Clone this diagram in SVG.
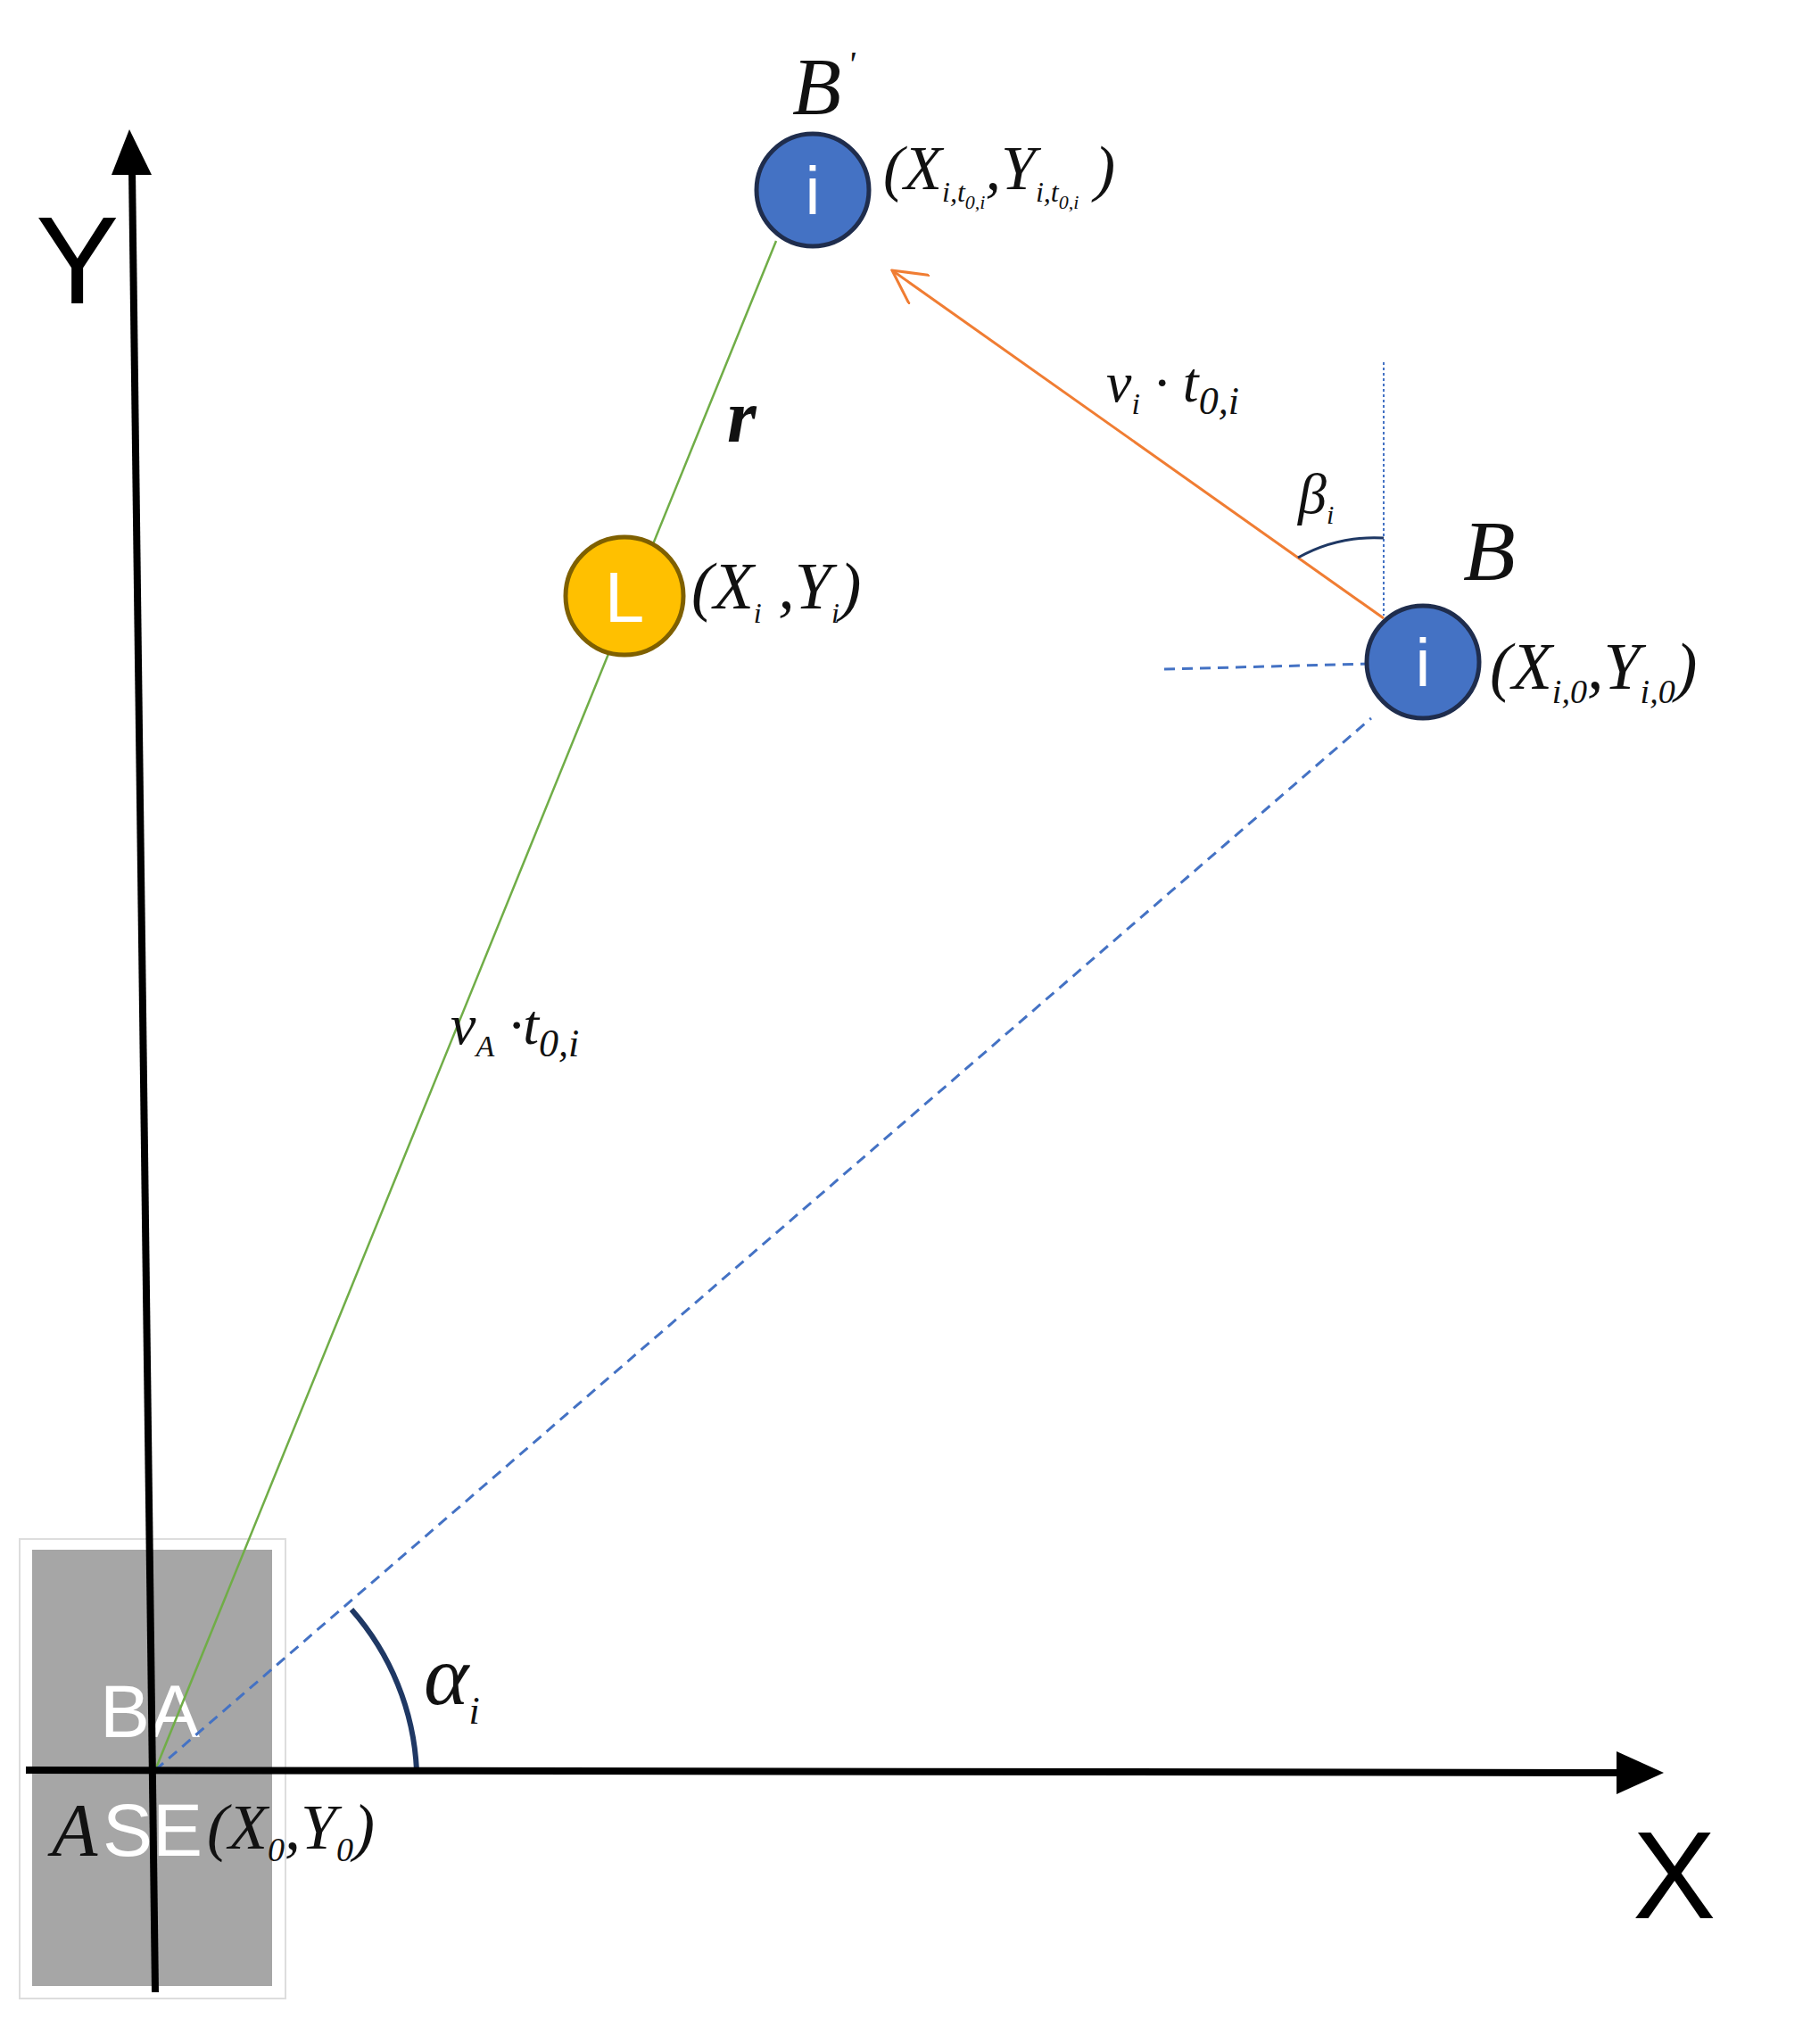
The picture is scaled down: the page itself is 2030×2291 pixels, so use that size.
<svg xmlns="http://www.w3.org/2000/svg" width="2030" height="2291" viewBox="0 0 2030 2291">
<defs>
<style>
.m{font-family:"Liberation Serif",serif;font-style:italic;fill:#111}
.s{font-family:"Liberation Sans",sans-serif}
.node{stroke:#1f2d4d;stroke-width:5}
</style>
<marker id="ah" viewBox="0 0 40 40" refX="38" refY="20" markerWidth="40" markerHeight="40" markerUnits="userSpaceOnUse" orient="auto"><path d="M0,0 L38,20 L0,40" fill="none" stroke="#f07d33" stroke-width="3"/></marker>
</defs>
<rect width="2030" height="2291" fill="#fff"/>
<g id="base">
<rect x="22" y="1725" width="298" height="515" fill="none" stroke="#ddd" stroke-width="2"/>
<rect x="36" y="1737" width="269" height="489" fill="#a6a6a6"/>
<text x="112" y="1947" class="s" font-size="84" fill="#fff">BA</text>
<text x="58" y="2080" class="m" font-size="84">A</text>
<text x="115" y="2080" class="s" font-size="84" fill="#fff">SE</text>
<text x="232" y="2072" class="m" font-size="72">(X<tspan font-size="38" dy="14">0</tspan><tspan dy="-14">,Y</tspan><tspan font-size="38" dy="14">0</tspan><tspan dy="-14">)</tspan></text>
</g>
<g id="connectors">
<line x1="174" y1="1984" x2="870" y2="270" stroke="#70ad47" stroke-width="2.5"/>
<line x1="174" y1="1984" x2="1537" y2="805" stroke="#4472c4" stroke-width="3" stroke-dasharray="12,8"/>
<line x1="1305" y1="750" x2="1537" y2="744" stroke="#4472c4" stroke-width="3" stroke-dasharray="12,8"/>
<line x1="1551" y1="406" x2="1551" y2="690" stroke="#4472c4" stroke-width="2" stroke-dasharray="3,3"/>
<line x1="1551" y1="693" x2="1000" y2="303" stroke="#f07d33" stroke-width="3" marker-end="url(#ah)"/>
<path d="M1455,625 Q1500,600 1551,603" fill="none" stroke="#1f3864" stroke-width="3"/>
<path d="M394,1804 A293,293 0 0 1 467,1984" fill="none" stroke="#1f3864" stroke-width="6"/>
</g>
<g id="axes">
<line x1="174" y1="2233" x2="148" y2="190" stroke="#000" stroke-width="8"/>
<polygon points="145,145 125,196 170,196" fill="#000"/>
<line x1="29" y1="1984" x2="1820" y2="1987" stroke="#000" stroke-width="8"/>
<polygon points="1865,1987 1812,1963 1812,2011" fill="#000"/>
<text x="40" y="340" class="s" font-size="140" fill="#000">Y</text>
<text x="1830" y="2150" class="s" font-size="140" fill="#000">X</text>
</g>
<g id="nodeBp">
<circle cx="911" cy="213" r="63" fill="#4472c4" class="node"/>
<text x="911" y="240" class="s" font-size="76" fill="#fff" text-anchor="middle">i</text>
<text x="888" y="128" class="m" font-size="90">B</text><text x="950" y="85" class="m" font-size="40">'</text>
<text x="990" y="212" class="m" font-size="70">(X<tspan font-size="32" dy="14">i,t</tspan><tspan font-size="22" dy="8">0,i</tspan><tspan dy="-22">,Y</tspan><tspan font-size="32" dy="14">i,t</tspan><tspan font-size="22" dy="8">0,i</tspan><tspan dy="-22"> )</tspan></text>
</g>
<g id="nodeL">
<circle cx="700" cy="668" r="66" fill="#ffc000" stroke="#7f6000" stroke-width="5"/>
<text x="700" y="697" class="s" font-size="80" fill="#fff" text-anchor="middle">L</text>
<text x="775" y="682" class="m" font-size="74">(X<tspan font-size="32" dy="16">i</tspan><tspan dy="-16"> ,Y</tspan><tspan font-size="32" dy="16">i</tspan><tspan dy="-16">)</tspan></text>
<text x="815" y="495" class="m" font-size="84" font-weight="bold">r</text>
</g>
<g id="nodeB">
<circle cx="1595" cy="742" r="63" fill="#4472c4" class="node"/>
<text x="1595" y="769" class="s" font-size="76" fill="#fff" text-anchor="middle">i</text>
<text x="1640" y="650" class="m" font-size="96">B</text>
<text x="1670" y="772" class="m" font-size="74">(X<tspan font-size="38" dy="16">i,0</tspan><tspan dy="-16">,Y</tspan><tspan font-size="38" dy="16">i,0</tspan><tspan dy="-16">)</tspan></text>
</g>
<g id="labels">
<text x="1240" y="450" class="m" font-size="64">v<tspan font-size="34" dy="14">i</tspan><tspan dy="-14"> · t</tspan><tspan font-size="44" dy="14">0,i</tspan></text>
<text x="1455" y="575" class="m" font-size="64">β<tspan font-size="30" dy="12">i</tspan></text>
<text x="505" y="1170" class="m" font-size="64">v<tspan font-size="34" dy="14">A</tspan><tspan dy="-14"> ·t</tspan><tspan font-size="44" dy="14">0,i</tspan></text>
<text x="475" y="1910" class="m" font-size="96">α<tspan font-size="44" dy="22">i</tspan></text>
</g>
</svg>
